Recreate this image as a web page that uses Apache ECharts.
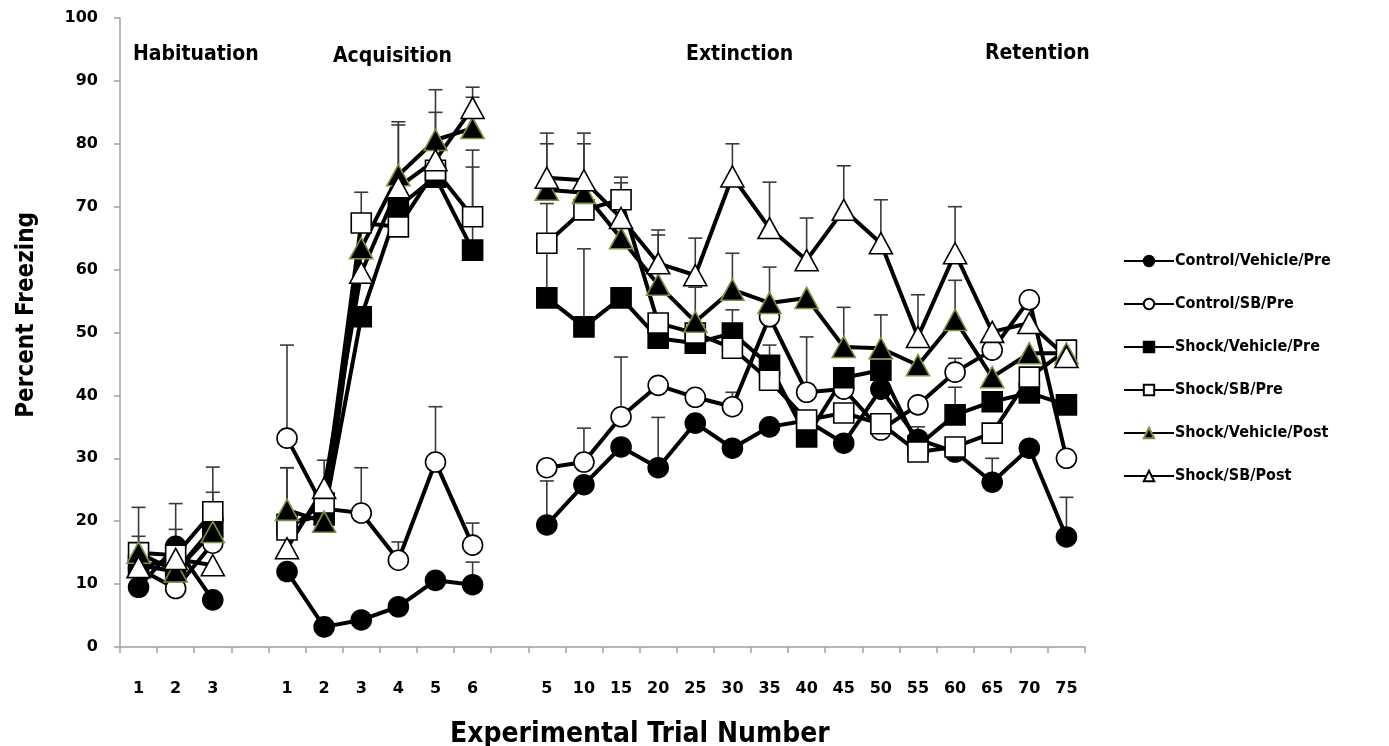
<!DOCTYPE html>
<html>
<head>
<meta charset="utf-8">
<script src="https://cdn.jsdelivr.net/npm/echarts@6/dist/echarts.min.js"></script>
<style>html,body{margin:0;padding:0;background:#fff}#c{width:1389px;height:746px}</style>
</head>
<body>
<div id="c"></div>
<script>
// Categories: Habituation 1-3, gap, Acquisition 1-6, gap, Extinction/Retention 5..75
var categories = ['1','2','3','', '1','2','3','4','5','6','', '5','10','15','20','25','30','35','40','45','50','55','60','65','70','75'];
var yTicks = [0,10,20,30,40,50,60,70,80,90,100];
var seriesNames = ['Control/Vehicle/Pre','Control/SB/Pre','Shock/Vehicle/Pre','Shock/SB/Pre','Shock/Vehicle/Post','Shock/SB/Post'];
var phaseLabels = ['Habituation','Acquisition','Extinction','Retention'];

var ctrlVehPre   = [9.5,16,7.5, null, 12,3.2,4.3,6.4,10.6,9.9, null, 19.4,25.8,31.8,28.5,35.6,31.6,35,36,32.4,41,33,31,26.2,31.6,17.5];
var ctrlSBPre    = [12.5,9.3,16.5, null, 33.2,22,21.3,13.8,29.4,16.2, null, 28.5,29.4,36.6,41.6,39.7,38.2,52.5,40.5,41,34.5,38.5,43.7,47.2,55.2,30];
var shockVehPre  = [13,12,19, null, 19.5,21,52.5,70,74.7,63.1, null, 55.5,50.9,55.5,49.1,48.3,49.9,44.8,33.4,42.8,44,32,36.9,39,40.4,38.5];
var shockSBPre   = [15,14.6,21.5, null, 18.6,22.9,67.4,66.8,75.8,68.4, null, 64.2,69.5,71.1,51.5,49.9,47.5,42.4,36.1,37.2,35.5,31,31.8,34,42.9,47.2];
var shockVehPost = [15,12,18.3, null, 21.8,19.9,63.4,75,80.6,82.5, null, 72.7,72.2,65,57.6,51.7,56.8,54.7,55.5,47.7,47.5,44.8,52,42.9,46.7,46.7];
var shockSBPost  = [12.7,14,13, null, 15.7,25.3,59.5,73.1,77.4,85.7, null, 74.6,74.2,68.2,61,59.1,74.8,66.6,61.5,69.5,64.2,49.3,62.6,50.1,51.5,46.1];

// Upper error bar lengths (SEM) where visible
var errCtrlVehPre   = [null,2.7,null, null, null,null,null,null,null,3.6, null, 7,null,null,8,null,null,null,null,null,null,null,null,3.8,null,6.3];
var errCtrlSBPre    = [null,null,null, null, 14.8,null,7.2,2.9,8.8,3.5, null, null,5.4,9.5,null,null,2.3,7.9,8.8,null,null,null,2.2,null,null,null];
var errShockVehPre  = [null,null,5.6, null, null,null,null,13,null,13.2, null, 15,12.4,null,null,null,3.7,null,null,null,null,null,4.4,null,null,null];
var errShockSBPre   = [7.2,8.2,7.1, null, 9.9,null,4.9,null,null,10.6, null, null,null,3.6,null,null,null,5.6,null,null,null,4,null,null,null,null];
var errShockVehPost = [2.6,null,null, null, 6.7,null,null,8.5,8,4.9, null, 7.3,7.8,null,7.9,5.5,5.8,null,null,6.3,5.3,null,6.3,null,null,null];
var errShockSBPost  = [null,null,null, null, null,4.4,null,null,7.6,3.3, null, 7.1,7.5,5.6,5.3,5.9,5.2,7.3,6.7,7,6.9,6.7,7.4,null,null,null];

var values = [ctrlVehPre, ctrlSBPre, shockVehPre, shockSBPre, shockVehPost, shockSBPost];
var errors = [errCtrlVehPre, errCtrlSBPre, errShockVehPre, errShockSBPre, errShockVehPost, errShockSBPost];

var green = '#77933c';
var styles = [
  {symbol:'circle', size:20, fill:'#000', border:'#000'},
  {symbol:'circle', size:20, fill:'#fff', border:'#000'},
  {symbol:'rect', size:20, fill:'#000', border:'#000'},
  {symbol:'rect', size:20, fill:'#fff', border:'#000'},
  {symbol:'triangle', size:[23,21], fill:'#000', border:green},
  {symbol:'triangle', size:[23,21], fill:'#fff', border:'#000'}
];

var errData = [];
errors.forEach(function(arr, s){
  arr.forEach(function(e, i){
    if (e != null && values[s][i] != null) errData.push([i, values[s][i], values[s][i] + e]);
  });
});

var series = [{
  type:'custom',
  name:'err',
  z:1,
  silent:true,
  data: errData,
  encode:{x:0, y:[1,2]},
  renderItem: function(params, api){
    var x = api.value(0);
    var p0 = api.coord([x, api.value(1)]);
    var p1 = api.coord([x, api.value(2)]);
    var w = 7;
    var st = {stroke:'#3a3a3a', lineWidth:1.6};
    return {type:'group', children:[
      {type:'line', shape:{x1:p0[0], y1:p0[1], x2:p1[0], y2:p1[1]}, style:st},
      {type:'line', shape:{x1:p1[0]-w, y1:p1[1], x2:p1[0]+w, y2:p1[1]}, style:st}
    ]};
  }
}];

seriesNames.forEach(function(n, s){
  var st = styles[s];
  series.push({
    type:'line',
    name:n,
    z:2,
    data: values[s],
    connectNulls:false,
    symbol: st.symbol,
    symbolSize: st.size,
    showAllSymbol: true,
    lineStyle:{color:'#000', width:4},
    itemStyle:{color: st.fill, borderColor: st.border, borderWidth:1.6, opacity:1},
    emphasis:{disabled:true},
    animation:false
  });
});

var chart = echarts.init(document.getElementById('c'), null, {renderer:'canvas'});
var boldFont = "'DejaVu Sans', Verdana, sans-serif";
var narrowFont = "'Liberation Sans Narrow', 'DejaVu Sans Condensed', sans-serif";
var titleFont = "bold 21px 'DejaVu Sans Condensed', sans-serif";
chart.setOption({
  animation:false,
  backgroundColor:'#fff',
  grid:{left:120, top:18, width:965, height:629, containLabel:false},
  xAxis:{
    type:'category',
    data: categories,
    boundaryGap:true,
    axisLine:{lineStyle:{color:'#a0a0a0', width:1.5}},
    axisTick:{show:true, interval:0, length:6, lineStyle:{color:'#a0a0a0', width:1.5}},
    axisLabel:{interval:0, margin:34, color:'#000', fontWeight:'bold', fontSize:16, fontFamily:boldFont},
    splitLine:{show:false}
  },
  yAxis:{
    type:'value',
    min:yTicks[0], max:yTicks[yTicks.length-1], interval:10,
    axisLine:{show:true, lineStyle:{color:'#a0a0a0', width:1.5}},
    axisTick:{show:true, length:6, lineStyle:{color:'#a0a0a0', width:1.5}},
    axisLabel:{margin:22, color:'#000', fontWeight:'bold', fontSize:16, fontFamily:boldFont},
    splitLine:{show:false}
  },
  legend:{
    orient:'vertical',
    left:1118, top:248,
    itemWidth:50, itemHeight:13, itemGap:27,
    data: seriesNames,
    textStyle:{color:'#000', fontWeight:'bold', fontSize:16, fontFamily:narrowFont, padding:[0,0,0,-4]},
    selectedMode:false
  },
  graphic:[
    {type:'text', left:133, top:44, style:{text:phaseLabels[0], font:titleFont, fill:'#000'}},
    {type:'text', left:333, top:46, style:{text:phaseLabels[1], font:titleFont, fill:'#000'}},
    {type:'text', left:686, top:44, style:{text:phaseLabels[2], font:titleFont, fill:'#000'}},
    {type:'text', left:985, top:43, style:{text:phaseLabels[3], font:titleFont, fill:'#000'}},
    {type:'text', left:450, top:721, style:{text:'Experimental Trial Number', font:"bold 28px 'DejaVu Sans Condensed', sans-serif", fill:'#000'}},
    {type:'text', left:15, top:212, rotation:Math.PI/2, style:{text:'Percent Freezing', font:"bold 24px 'DejaVu Sans Condensed', sans-serif", fill:'#000'}}
  ],
  series: series
});
</script>
</body>
</html>
